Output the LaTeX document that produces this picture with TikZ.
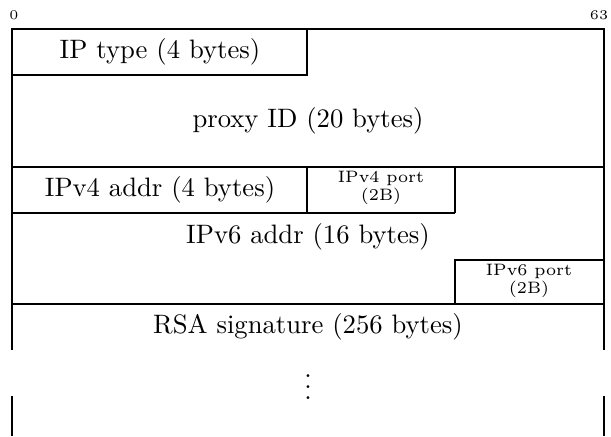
\documentclass[tikz,border=0pt]{standalone}
\usepackage{amsmath}
\usetikzlibrary{positioning}
\begin{document}
\begin{tikzpicture}[
    x=0.375pt, y=-0.375pt,
    line width=0.45pt,
    every node/.style={font=\normalsize, inner sep=0pt},
    port/.style={font=\fontsize{6.2}{5.5}\selectfont, align=center},
    bitnum/.style={font=\tiny}
]
\useasboundingbox (0,0) rectangle (611,436);

% Bit numbers
\node[bitnum] (bit0)  at (14,15)  {0};
\node[bitnum] (bit63) at (599,15) {63};

% Outer frame (open at the bottom)
\draw (12,350) -- (12,29) -- (604,29) -- (604,350);
\draw (12,396) -- (12,436);
\draw (604,396) -- (604,436);

% Field borders
\draw (12,75) -- (307,75) -- (307,29);
\draw (12,167) -- (604,167);
\draw (307,167) -- (307,213);
\draw (455,167) -- (455,213);
\draw (12,213) -- (455,213);
\draw (455,304) -- (455,260) -- (604,260);
\draw (12,304) -- (604,304);

% Field labels
\node (iptype)  at (160,52)  {IP type (4 bytes)};
\node (proxyid) at (308,121) {proxy ID (20 bytes)};
\node (v4addr)  at (160,190) {IPv4 addr (4 bytes)};
\node[port] (v4port) at (381,188) {IPv4 port\\(2B)};
\node (v6addr)  at (308,237) {IPv6 addr (16 bytes)};
\node[port] (v6port) at (529,281) {IPv6 port\\(2B)};
\node (rsasig)  at (308,327) {RSA signature (256 bytes)};
\node (more)    at (308,379) {$\vdots$};
\end{tikzpicture}
\end{document}
